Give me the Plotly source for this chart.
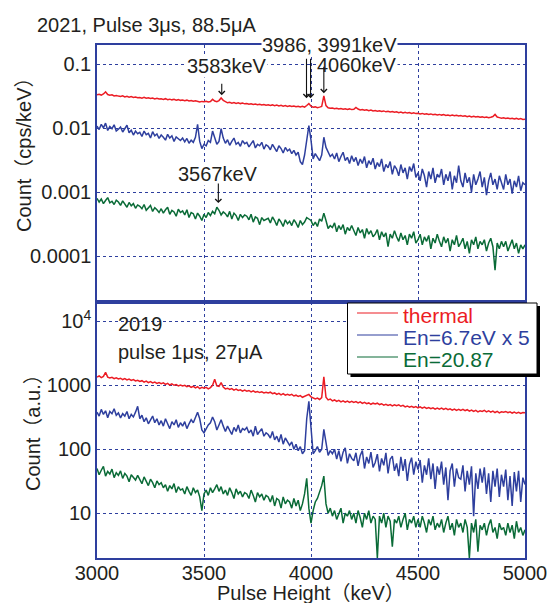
import plotly.graph_objects as go

# Pulse-height axis: 10 keV bins from 3000 to 5000 keV
ENERGY_KEV = list(range(3000, 5001, 10))

# 2021 run (pulse 3 us, 88.5 uA): count rate in units of 1e-5 cps/keV
RUN2021_THERMAL = [
    3310, 3380, 3290, 3420, 3690, 3350, 3280, 3330, 3190, 3240,
    3170, 3120, 3200, 3080, 3140, 3050, 3110, 3020, 3070, 2990,
    3020, 2950, 3040, 2930, 2980, 2900, 2960, 2870, 2920, 2850,
    2880, 2820, 2890, 2790, 2840, 2770, 2820, 2740, 2790, 2720,
    2750, 2690, 2740, 2660, 2710, 2630, 2680, 2600, 2560, 2620,
    2590, 2640, 2570, 2610, 2820, 2650, 2590, 2700, 2960, 2720,
    2560, 2490, 2530, 2460, 2510, 2440, 2490, 2420, 2470, 2400,
    2430, 2370, 2410, 2350, 2390, 2330, 2370, 2310, 2350, 2290,
    2320, 2270, 2310, 2250, 2290, 2230, 2270, 2210, 2250, 2190,
    2240, 2180, 2220, 2160, 2200, 2150, 2190, 2130, 2260, 2420,
    2200, 2120, 2150, 2090, 2130, 2180, 3200, 2250, 2080, 2040,
    2060, 2010, 2050, 1990, 2030, 1980, 2010, 1960, 2000, 1950,
    1970, 2110, 1990, 1920, 1960, 1900, 1940, 1880, 1920, 1860,
    1880, 1840, 1870, 1820, 1860, 1800, 1840, 1790, 1820, 1770,
    1800, 1750, 1780, 1730, 1770, 1720, 1750, 1700, 1740, 1690,
    1710, 1670, 1700, 1650, 1680, 1640, 1670, 1620, 1650, 1610,
    1640, 1600, 1630, 1580, 1610, 1570, 1600, 1560, 1590, 1550,
    1570, 1530, 1560, 1510, 1550, 1500, 1530, 1490, 1520, 1480,
    1500, 1470, 1490, 1450, 1480, 1520, 1640, 1490, 1460, 1430,
    1450, 1420, 1440, 1400, 1430, 1390, 1420, 1380, 1410, 1370,
    1380,
]
RUN2021_EN67 = [
    1080, 950, 1150, 1010, 1200, 920, 1060, 980, 1130, 900,
    960, 1040, 870, 990, 1110, 850, 930, 780, 900, 820,
    860, 740, 900, 790, 830, 700, 880, 760, 810, 690,
    780, 720, 650, 800, 700, 760, 620, 730, 680, 640,
    700, 610, 690, 580, 650, 600, 720, 1150, 620, 480,
    560, 530, 640, 600, 900, 700, 560, 620, 980, 700,
    580, 660, 540, 620, 700, 560, 600, 520, 640, 570,
    600, 510, 580, 640, 490, 560, 530, 600, 470, 550,
    520, 460, 560, 490, 430, 530, 480, 410, 500, 440,
    470, 400, 450, 380, 420, 300, 270, 380, 700, 1100,
    650, 330, 400, 350, 310, 380, 720, 500, 420, 360,
    390, 330, 410, 300, 360, 420, 310, 350, 280, 370,
    300, 350, 260, 330, 280, 360, 240, 310, 270, 340,
    230, 290, 250, 330, 210, 270, 240, 300, 190, 260,
    230, 180, 270, 200, 240, 160, 250, 210, 280, 170,
    200, 150, 230, 180, 120, 210, 160, 240, 140, 190,
    170, 230, 130, 190, 150, 210, 110, 180, 140, 260,
    150, 120, 200, 140, 170, 100, 190, 130, 160, 210,
    120, 170, 90, 150, 200, 130, 160, 110, 180, 140,
    110, 190, 130, 160, 95, 150, 120, 180, 105, 140,
    130,
]
RUN2021_EN2087 = [
    80, 70, 78, 66, 74, 82, 68, 72, 64, 75,
    70, 62, 73, 65, 58, 69, 61, 66, 56, 63,
    60, 55, 64, 52, 58, 62, 50, 57, 53, 48,
    55, 47, 53, 58, 45, 52, 49, 42, 54, 48,
    51, 44, 53, 40, 48, 46, 38, 47, 42, 36,
    45, 40, 48, 43, 50, 46, 58, 52, 44, 49,
    46, 41, 50, 38, 47, 43, 36, 45, 40, 44,
    42, 37, 45, 34, 41, 39, 31, 40, 36, 38,
    39, 33, 41, 36, 30, 38, 34, 29, 37, 32,
    35, 30, 37, 33, 28, 36, 31, 34, 40, 38,
    36, 30, 34, 29, 38, 35, 47, 36, 27, 30,
    28, 33, 24, 30, 26, 31, 22, 28, 25, 30,
    25, 21, 28, 23, 26, 19, 27, 22, 25, 20,
    22, 26, 18, 24, 20, 23, 14, 22, 19, 25,
    20, 17, 23, 18, 21, 15, 22, 19, 24, 16,
    18, 22, 15, 20, 17, 21, 13, 19, 16, 22,
    17, 14, 20, 16, 19, 12, 18, 15, 21, 14,
    16, 19, 13, 17, 11, 18, 15, 20, 13, 17,
    15, 18, 12, 16, 19, 14, 6, 16, 13, 17,
    14, 17, 12, 15, 18, 13, 16, 11, 15, 13,
    15,
]

# 2019 run (pulse 1 us, 27 uA): counts, arbitrary units (En=6.7eV already x5)
RUN2019_THERMAL = [
    1350, 1400, 1320, 1380, 1590, 1340, 1300, 1330, 1270, 1310,
    1260, 1290, 1230, 1270, 1210, 1250, 1190, 1230, 1170, 1200,
    1150, 1180, 1120, 1160, 1100, 1140, 1090, 1120, 1070, 1100,
    1060, 1090, 1030, 1070, 1010, 1050, 1000, 1030, 980, 1010,
    980, 1000, 950, 980, 930, 960, 910, 950, 890, 930,
    900, 930, 880, 920, 1000, 1240, 980, 960, 1100, 940,
    880, 900, 860, 890, 840, 870, 830, 850, 810, 840,
    810, 830, 790, 820, 780, 800, 770, 790, 760, 780,
    760, 780, 740, 760, 720, 750, 710, 740, 700, 720,
    700, 720, 680, 700, 670, 690, 650, 670, 700, 720,
    660, 640, 610, 630, 600, 640, 1360, 650, 590, 610,
    570, 590, 560, 580, 550, 570, 545, 565, 540, 560,
    540, 555, 530, 550, 520, 540, 515, 530, 505, 525,
    510, 525, 500, 515, 490, 505, 485, 500, 475, 495,
    480, 495, 470, 485, 460, 475, 455, 470, 450, 465,
    445, 460, 440, 455, 435, 450, 430, 445, 425, 440,
    425, 440, 420, 435, 415, 430, 410, 425, 405, 420,
    405, 420, 400, 415, 395, 410, 390, 405, 385, 400,
    390, 405, 385, 400, 380, 395, 375, 390, 370, 385,
    380, 390, 372, 385, 368, 380, 365, 378, 362, 375,
    373,
]
RUN2019_EN67 = [
    380, 330, 420, 350, 400, 310, 390, 360, 430, 340,
    370, 310, 360, 330, 390, 300, 350, 320, 380, 470,
    300, 340, 270, 310, 250, 290, 330, 260, 300, 240,
    280, 230, 300, 250, 210, 270, 240, 290, 220, 260,
    230, 270, 210, 250, 290, 260, 310, 380, 300, 200,
    180, 210, 240, 260, 320, 270, 200, 240, 290, 230,
    190, 230, 200, 170, 220, 190, 240, 180, 210, 200,
    220, 180, 200, 160, 230, 170, 190, 210, 160, 180,
    170, 150, 190, 140, 160, 130, 170, 120, 150, 130,
    115, 130, 100, 120, 95, 110, 85, 95, 300, 560,
    200, 85, 95, 110, 90, 100, 205, 130, 80, 95,
    85, 100, 70, 95, 65, 90, 105, 60, 85, 72,
    66, 88, 55, 80, 95, 50, 76, 60, 90, 52,
    62, 84, 45, 72, 56, 88, 42, 70, 78, 46,
    60, 38, 76, 46, 70, 32, 58, 74, 40, 64,
    48, 68, 30, 56, 40, 72, 34, 60, 24, 54,
    40, 64, 28, 52, 16, 46, 60, 26, 50, 36,
    34, 56, 22, 46, 28, 54, 9, 42, 24, 50,
    30, 52, 20, 42, 15, 46, 26, 50, 18, 40,
    26, 48, 16, 38, 13, 44, 22, 46, 15, 36,
    28,
]
RUN2019_EN2087 = [
    50, 40, 47, 54, 38, 45, 41, 49, 36, 43,
    39, 46, 35, 42, 38, 31, 40, 36, 33, 39,
    34, 29, 37, 31, 27, 34, 30, 25, 32, 28,
    30, 25, 28, 22, 27, 24, 29, 21, 26, 23,
    24, 20, 26, 22, 19, 25, 21, 23, 18, 11,
    20, 23, 19, 25, 21, 24, 28, 22, 26, 20,
    23, 19, 25, 21, 17, 24, 20, 22, 18, 21,
    20, 17, 23, 19, 15, 21, 18, 20, 16, 19,
    18, 15, 19, 13, 17, 16, 12, 18, 14, 16,
    15, 12, 17, 13, 16, 11, 14, 20, 35, 12,
    7, 11, 15, 17, 21, 27, 38, 14, 10, 12,
    9, 11, 8, 10, 12, 7, 10, 9, 11, 8,
    10, 7, 11, 8.5, 6, 10, 8, 11, 7, 9,
    8, 2, 9, 7, 10, 6, 9, 7.5, 3, 8,
    7, 9, 6, 8, 10, 5.5, 8, 7, 9, 6,
    8, 6, 9, 7, 5, 8, 6.5, 9, 5.5, 7,
    6, 8, 5, 7, 9, 5.5, 7, 4.5, 8, 6,
    7, 5, 8, 6, 2, 7, 5, 8, 2.5, 6.5,
    5.5, 7, 4.5, 6.5, 8, 5, 6, 4, 7, 5.5,
    6, 4.5, 7, 5, 6.5, 4, 7.5, 5, 6, 4.5,
    5.5,
]

SERIES_NAMES = ["thermal", "En=6.7eV x 5", "En=20.87"]
SERIES_COLORS = ["#ec1c24", "#2e3f9e", "#0a6b37"]

TOP_TICKS = [1e-4, 1e-3, 1e-2, 1e-1]
TOP_TICK_TEXT = ["0.0001", "0.001", "0.01", "0.1"]
BOTTOM_TICKS = [10, 100, 1000, 10000]
BOTTOM_TICK_TEXT = ["10", "100", "1000", "10<sup>4</sup>"]
X_TICKS = [3000, 3500, 4000, 4500, 5000]

# peaks marked with arrows: (energy keV, arrow head log10 y, arrow length px, x nudge px)
TOP_MARKERS = [(3583, -1.484, 13, 0), (3986, -1.531, 41, -1.5),
               (3991, -1.531, 41, 1.5), (4060, -1.453, 28, 0),
               (3567, -3.172, 21, 0)]

for arr in (RUN2021_THERMAL, RUN2021_EN67, RUN2021_EN2087,
            RUN2019_THERMAL, RUN2019_EN67, RUN2019_EN2087):
    assert len(arr) == len(ENERGY_KEV)

FONT = "Liberation Sans, Arial, Noto Sans CJK JP, sans-serif"
INK = "#231f20"
FRAME = "#2e3f9e"
W, H = 551, 603
ML, MR, MT, MB = 97, 26, 45, 45
PW, PH = W - ML - MR, H - MT - MB


def px(x):
    return (x - ML) / PW


def py(y):
    return (H - MB - y) / PH


fig = go.Figure()

top_sets = [RUN2021_THERMAL, RUN2021_EN67, RUN2021_EN2087]
bottom_sets = [RUN2019_THERMAL, RUN2019_EN67, RUN2019_EN2087]
for name, color, vals in zip(SERIES_NAMES, SERIES_COLORS, top_sets):
    fig.add_trace(go.Scatter(
        x=ENERGY_KEV, y=[v * 1e-5 for v in vals], mode="lines", name=name,
        line=dict(color=color, width=1.5), xaxis="x2", yaxis="y2",
        showlegend=False))
for name, color, vals in zip(SERIES_NAMES, SERIES_COLORS, bottom_sets):
    fig.add_trace(go.Scatter(
        x=ENERGY_KEV, y=vals, mode="lines", name=name,
        line=dict(color=color, width=1.5), xaxis="x", yaxis="y",
        showlegend=False))

axis_common = dict(
    showline=True, mirror=True, linecolor=FRAME, linewidth=1.5,
    showgrid=True, gridcolor=FRAME, griddash="dot", gridwidth=1,
    zeroline=False, ticks="", automargin=False,
    tickfont=dict(family=FONT, size=20, color=INK),
)

fig.update_layout(
    width=W, height=H,
    margin=dict(l=ML, r=MR, t=MT, b=MB, autoexpand=False),
    paper_bgcolor="white", plot_bgcolor="white",
    font=dict(family=FONT, size=20, color=INK),
    showlegend=False,
    xaxis=dict(axis_common, domain=[0, 1], anchor="y", range=[3000, 5000],
               tickvals=X_TICKS, ticktext=[str(v) for v in X_TICKS],
               ticklabelstandoff=-4),
    yaxis=dict(axis_common, domain=[0, 0.5], anchor="x", type="log",
               range=[0.30, 4.31], tickvals=BOTTOM_TICKS,
               ticktext=BOTTOM_TICK_TEXT),
    xaxis2=dict(axis_common, domain=[0, 1], anchor="y2", matches="x",
                range=[3000, 5000], tickvals=X_TICKS, showticklabels=False),
    yaxis2=dict(axis_common, domain=[0.5, 1], anchor="x2", type="log",
                range=[-4.71, -0.70], tickvals=TOP_TICKS,
                ticktext=TOP_TICK_TEXT),
)

annotations = []


def label(text, x, y, xanchor="left", color=INK, size=20, angle=0, bg=None):
    # text boxes include descender space, so the glyphs sit ~2px above centre
    yy = y + 2 if angle == 0 else y
    d = dict(text=text, x=px(x), y=py(yy), xref="paper", yref="paper",
             xanchor=xanchor, yanchor="middle", showarrow=False,
             textangle=angle, font=dict(family=FONT, size=size, color=color),
             borderpad=0)
    if bg:
        d["bgcolor"] = bg
    annotations.append(d)


label("2021, Pulse 3μs, 88.5μA", 36, 23)
label("3986, 3991keV", 329, 43, xanchor="center", bg="white")
label("4060keV", 316, 63, bg="white")
label("3583keV", 186, 64.5, bg="white")
label("3567keV", 177, 172.5, bg="white")
label("2019", 117, 322)
label("pulse 1μs, 27μA", 117, 350)
label("Count（cps/keV）", 24, 150, xanchor="center", angle=-90)
label("Count（a.u.）", 33, 428, xanchor="center", angle=-90)
label("Pulse Height（keV）", 311, 591, xanchor="center")

for energy, head, length, nudge in TOP_MARKERS:
    annotations.append(dict(
        x=energy, y=head, xref="x2", yref="y2", text="", showarrow=True,
        ax=0, ay=-length, xshift=nudge, arrowhead=4, arrowsize=1.1,
        arrowwidth=1.1, arrowcolor="#111111", standoff=0, startstandoff=0))

# legend box with drop shadow
shapes = [
    dict(type="rect", xref="paper", yref="paper", x0=px(350.5), x1=px(540),
         y0=py(377), y1=py(306), fillcolor="black", line=dict(width=0)),
    dict(type="rect", xref="paper", yref="paper", x0=px(347.5), x1=px(537),
         y0=py(374), y1=py(303), fillcolor="white",
         line=dict(color="black", width=1)),
]
for name, color, yy in zip(SERIES_NAMES, SERIES_COLORS, [313, 335, 357]):
    shapes.append(dict(type="line", xref="paper", yref="paper",
                       x0=px(357), x1=px(398), y0=py(yy), y1=py(yy),
                       line=dict(color=color, width=1.2)))
    label(name, 402, yy + 0.5, color=color, size=21)

fig.update_layout(annotations=annotations, shapes=shapes)

fig.write_html("out.html",
               post_script="document.body.style.margin='0';"
                           "document.body.style.overflow='hidden';")
